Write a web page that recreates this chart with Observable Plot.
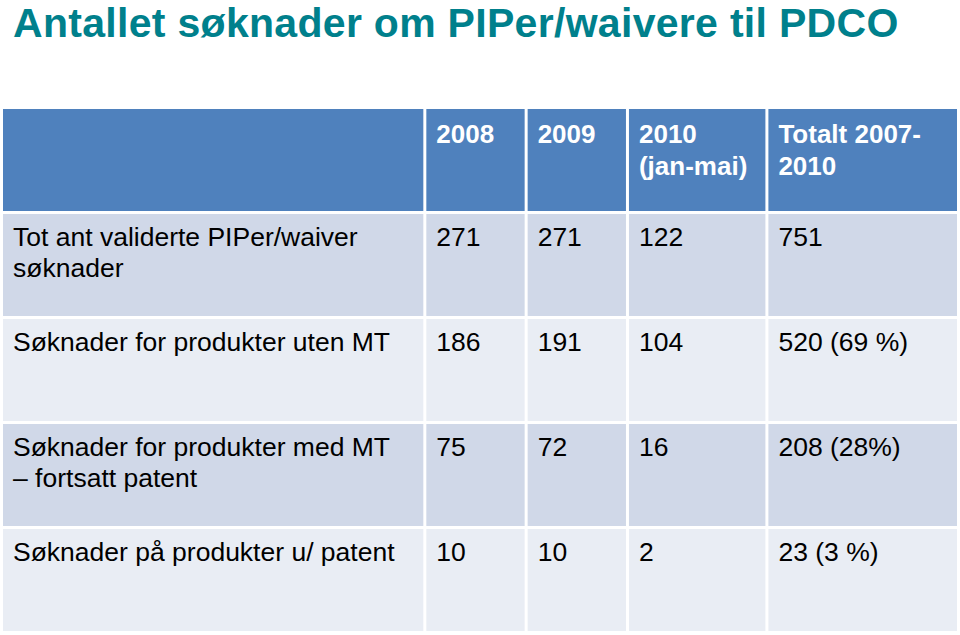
<!DOCTYPE html>
<html>
<head>
<meta charset="utf-8">
<script src="https://cdn.jsdelivr.net/npm/d3@7"></script>
<script src="https://cdn.jsdelivr.net/npm/@observablehq/plot@0.6"></script>
<style>
  html, body { margin: 0; padding: 0; background: #fff; }
  body { width: 960px; height: 635px; overflow: hidden; font-family: "Liberation Sans", Arial, sans-serif; }
  #title { height: 105px; margin: 0; padding-left: 13px; font-size: 41px; font-weight: bold; line-height: normal; letter-spacing: 0.3px; color: #00808c; white-space: nowrap; }
  svg { display: block; }
</style>
</head>
<body>
<div id="title">Antallet søknader om PIPer/waivere til PDCO</div>
<div id="chart"></div>
<script>
// ---- data ----
const colHeaders = ["", "2008", "2009", "2010\n(jan-mai)", "Totalt 2007-\n2010"];
const rowLabels = [
  "Tot ant validerte PIPer/waiver\nsøknader",
  "Søknader for produkter uten MT",
  "Søknader for produkter med MT\n– fortsatt patent",
  "Søknader på produkter u/ patent"
];
const v2008 = [271, 186, 75, 10];
const v2009 = [271, 191, 72, 10];
const v2010 = [122, 104, 16, 2];
const vTotal = [751, 520, 208, 23];
const vShare = [null, "69 %", "28%", "3 %"];

// ---- layout ----
const colWidths = [422, 101, 101, 139, 191];
const colStart = [];
let acc = 0;
for (const w of colWidths) { colStart.push(acc); acc += w; }
const colEnd = colStart.map((s, i) => s + colWidths[i]);
const rows = ["h", "r0", "r1", "r2", "r3"];
const rowFill = ["#4f81bd", "#d0d8e8", "#e9edf4", "#d0d8e8", "#e9edf4"];

const cells = [];
rows.forEach((r, ri) => colWidths.forEach((w, ci) => cells.push({row: r, col: ci, fill: rowFill[ri]})));

const headerTexts = colHeaders.map((t, ci) => ({row: "h", col: ci, label: t})).filter(d => d.label);
const bodyTexts = [];
rowLabels.forEach((lab, i) => {
  const r = rows[i + 1];
  const total = vShare[i] ? `${vTotal[i]} (${vShare[i]})` : `${vTotal[i]}`;
  [lab, String(v2008[i]), String(v2009[i]), String(v2010[i]), total]
    .forEach((t, ci) => bodyTexts.push({row: r, col: ci, label: t}));
});

const H = 530;
const yRange = [3, 527];
const padInner = 0.03;
const bw = (yRange[1] - yRange[0]) / (rows.length - padInner) * (1 - padInner);
const dyTop = -bw / 2 + 10;
const font = "Liberation Sans, Arial, sans-serif";

const chart = Plot.plot({
  width: 960,
  height: H,
  margin: 0,
  x: {type: "linear", domain: [0, acc], range: [1.5, 958.5], axis: null},
  y: {type: "band", domain: rows, range: yRange, paddingInner: padInner, paddingOuter: 0, axis: null},
  color: {type: "identity"},
  marks: [
    Plot.barX(cells, {x1: d => colStart[d.col], x2: d => colEnd[d.col], y: "row", fill: "fill", insetLeft: 1.5, insetRight: 1.5}),
    Plot.text(headerTexts, {x: d => colStart[d.col], y: "row", text: "label", textAnchor: "start", lineAnchor: "top",
      dx: 11, dy: dyTop + 1, fontSize: 26, fontWeight: "bold", fill: "white", fontFamily: font, lineHeight: 1.22}),
    Plot.text(bodyTexts, {x: d => colStart[d.col], y: "row", text: "label", textAnchor: "start", lineAnchor: "top",
      dx: 11, dy: dyTop, fontSize: 26.5, fill: "black", fontFamily: font, lineHeight: 1.17})
  ]
});
document.getElementById("chart").appendChild(chart);
</script>
</body>
</html>
